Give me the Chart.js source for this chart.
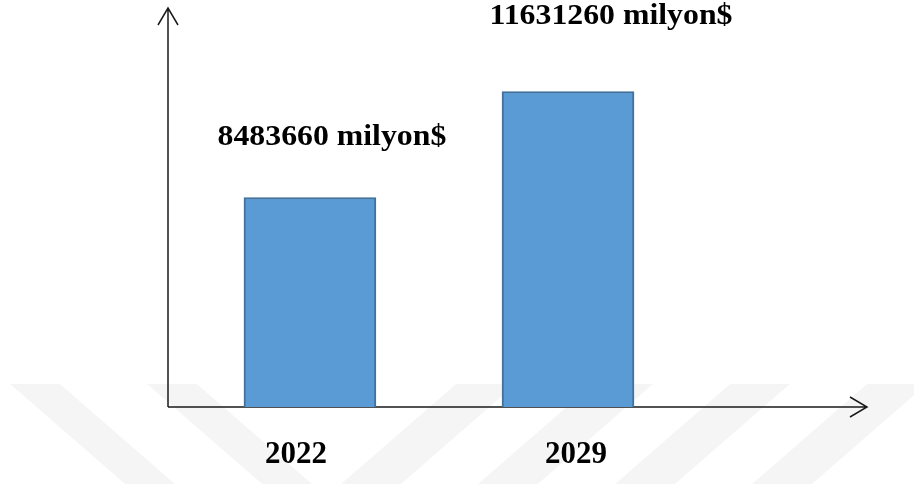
<!DOCTYPE html>
<html lang="tr">
  <head>
    <meta charset="utf-8" />
    <title>Pazar Büyüklüğü</title>
    <style>
      html, body { margin: 0; padding: 0; background: #fff; }
      #wrap { position: relative; width: 914px; height: 484px; }
    </style>
  </head>
  <body>
    <div id="wrap">
      <canvas id="canvas"></canvas>
    </div>

    <script src="https://cdn.jsdelivr.net/npm/chart.js"></script>

    <script>
      const years = [2022, 2029];
      const values = [8483660, 11631260];
      const unit = "milyon$";

      // where each value caption sits relative to the top of its bar
      const captionOffsets = [
        { dx: 22, dy: -52 },
        { dx: 43, dy: -68 },
      ];
      // year labels are nudged a little off the bar centres
      const yearOffsets = [-14, 8];

      const serif = "'Liberation Serif', 'Times New Roman', serif";

      // faint diagonal bands behind the chart
      const backdrop = {
        id: "backdrop",
        beforeDraw(chart) {
          const c = chart.ctx;
          const h = chart.height;
          const top = 384;
          c.save();
          c.fillStyle = "rgba(0, 0, 0, 0.04)";
          [10, 147].forEach((x0) => {
            c.beginPath();
            c.moveTo(x0, top);
            c.lineTo(x0 + 50, top);
            c.lineTo(x0 + 165, h);
            c.lineTo(x0 + 115, h);
            c.closePath();
            c.fill();
          });
          [456, 593, 730, 867].forEach((x0) => {
            c.beginPath();
            c.moveTo(x0, top);
            c.lineTo(x0 + 60, top);
            c.lineTo(x0 - 55, h);
            c.lineTo(x0 - 115, h);
            c.closePath();
            c.fill();
          });
          c.restore();
        },
      };

      // both axes drawn as plain lines with open arrow heads
      const arrowAxes = {
        id: "arrowAxes",
        beforeDatasetsDraw(chart) {
          const { left, right, top, bottom } = chart.chartArea;
          const c = chart.ctx;
          c.save();
          c.strokeStyle = "#1a1a1a";
          c.lineWidth = 1.5;
          c.beginPath();
          c.moveTo(left, bottom);
          c.lineTo(left, top);
          c.moveTo(left - 10, top + 17);
          c.lineTo(left, top);
          c.lineTo(left + 10, top + 17);
          c.moveTo(left, bottom);
          c.lineTo(right, bottom);
          c.moveTo(right - 17, bottom - 10);
          c.lineTo(right, bottom);
          c.lineTo(right - 17, bottom + 10);
          c.stroke();
          c.restore();
        },
      };

      // value captions above the bars and year labels under the axis
      const captions = {
        id: "captions",
        afterDatasetsDraw(chart) {
          const c = chart.ctx;
          const meta = chart.getDatasetMeta(0);
          const xScale = chart.scales.x;
          const bottom = chart.chartArea.bottom;
          c.save();
          c.fillStyle = "#000";
          c.textAlign = "center";
          c.textBaseline = "alphabetic";
          c.font = "bold 30px " + serif;
          meta.data.forEach((bar, i) => {
            const off = captionOffsets[i];
            c.save();
            c.translate(bar.x + off.dx, bar.y + off.dy);
            c.scale(1.06, 1);
            c.fillText(values[i] + " " + unit, 0, 0);
            c.restore();
          });
          c.font = "bold 31px " + serif;
          years.forEach((yr, i) => {
            const x = xScale.getPixelForValue(yr) + yearOffsets[i];
            c.fillText(String(yr), x, bottom + 56);
          });
          c.restore();
        },
      };

      const ctx = document.getElementById("canvas");

      new Chart(ctx, {
        type: "bar",
        data: {
          datasets: [
            {
              data: years.map((y, i) => ({ x: y, y: values[i] })),
              backgroundColor: "#5B9BD5",
              borderColor: "#41719C",
              borderWidth: 2,
              borderSkipped: false,
              barThickness: 132,
            },
          ],
        },
        options: {
          responsive: true,
          maintainAspectRatio: false,
          animation: false,
          layout: {
            padding: { left: 168, right: 47, top: 8, bottom: 77 },
          },
          plugins: {
            legend: { display: false },
            tooltip: { enabled: false },
          },
          scales: {
            x: {
              type: "linear",
              display: false,
              offset: false,
              min: 2018.15,
              max: 2037.11,
            },
            y: {
              display: false,
              min: 2260000,
              max: 14113000,
            },
          },
        },
        plugins: [backdrop, arrowAxes, captions],
      });
    </script>
  </body>
</html>
